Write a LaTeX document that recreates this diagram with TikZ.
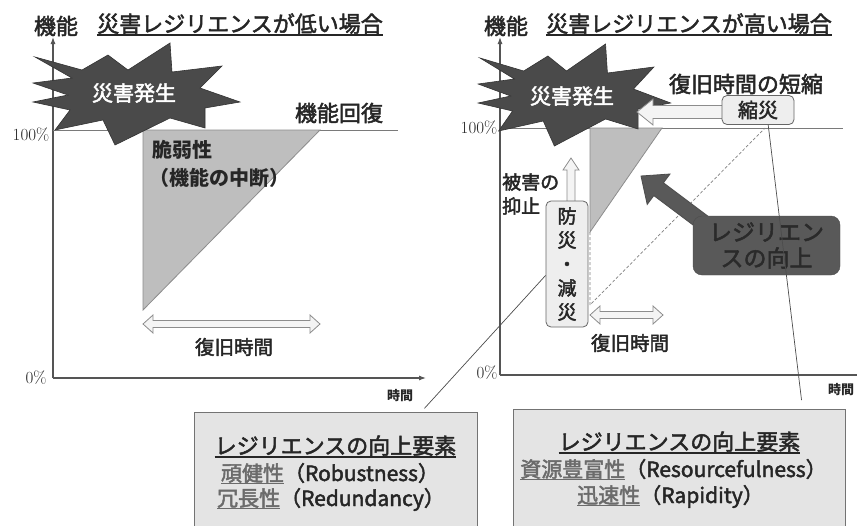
\documentclass[tikz,border=0pt]{standalone}
\usepackage{fontspec}
\newfontfamily\jp{Noto Sans CJK JP}[UprightFeatures={FakeBold=2.2}]
\usetikzlibrary{calc,arrows.meta}
\newcommand\myul[1]{\leavevmode\vtop{\hbox{#1}\kern0.6pt\hrule height 1.1pt}}
\definecolor{ink}{HTML}{262626}
\definecolor{axisc}{HTML}{555555}
\definecolor{linec}{HTML}{7A7A7A}
\definecolor{burstc}{HTML}{4A4A4A}
\definecolor{wedgec}{HTML}{BEBEBE}
\definecolor{wedgeline}{HTML}{8C8C8C}
\definecolor{boxc}{HTML}{E4E4E4}
\definecolor{tagc}{HTML}{EEEEEE}
\definecolor{darkc}{HTML}{595959}
\definecolor{darkt}{HTML}{2A2A2A}
\definecolor{grayword}{HTML}{6B6B6B}
\definecolor{hollowc}{HTML}{F4F4F4}
\newcommand\gword[1]{\textcolor{grayword}{\myul{#1}}}
\newcommand\hdarrow[3]{%
  \draw[hollow] (#1,#3) -- ({#1+10},{#3-9}) -- ({#1+10},{#3-3.5}) -- ({#2-10},{#3-3.5})
   -- ({#2-10},{#3-9}) -- (#2,#3) -- ({#2-10},{#3+9}) -- ({#2-10},{#3+3.5})
   -- ({#1+10},{#3+3.5}) -- ({#1+10},{#3+9}) -- cycle;}
\tikzset{
  lbl/.style={font=\jp\fontsize{#1}{#1}\selectfont, text=ink, inner sep=0pt},
  axisline/.style={draw=axisc, line width=1.1pt, -{Latex[length=7pt,width=5pt]}},
  pct/.style={font=\fontsize{17}{17}\selectfont, text=ink, inner sep=0pt},
  fullline/.style={draw=linec, line width=1pt},
  wedgefill/.style={fill=wedgec, draw=wedgeline, line width=0.8pt},
  burstfill/.style={fill=burstc, draw=black!80, line width=0.6pt, line join=miter},
  hollow/.style={fill=hollowc, draw=black!45, line width=0.8pt, line join=miter},
  tagbox/.style={draw=black!60, fill=tagc, rounded corners=5pt, line width=0.8pt, inner sep=0pt, text=ink},
  infobox/.style={draw=black!55, fill=boxc, line width=0.9pt, inner sep=0pt, anchor=north west},
  callout/.style={draw=black!70, line width=0.7pt},
  darkbox/.style={fill=darkc, draw=black!70, rounded corners=9pt, inner sep=0pt, text=darkt, align=center, font=\jp\fontsize{23}{26}\selectfont},
  darkarrow/.style={fill=darkc, draw=black!70, line width=0.8pt, line join=miter},
  dashedguide/.style={draw=gray, line width=0.7pt, dash pattern=on 3pt off 2pt},
  explosion/.pic={\path[burstfill] (-100,-38) -- (-53,-25) -- (-27,-40) -- (-7,-25) -- (35,-52)
     -- (37,-23) -- (87,-29) -- (65,-7) -- (105,7) -- (70,13) -- (70,33) -- (35,23) -- (-20,50)
     -- (-32,25) -- (-80,35) -- (-65,15) -- (-102,7) -- (-67,0) -- (-102,-12) -- (-63,-17) -- cycle;}
}
\begin{document}
\begin{tikzpicture}[x=1pt,y=-1pt]
\clip (0,0) rectangle (857,525);
\fill[white] (0,0) rectangle (857,525);
% ---------------- left panel
\coordinate (oL) at (53,378);
\coordinate (yTopL) at (53,37);
\coordinate (xEndL) at (426,378);
\draw[axisline] (oL) -- (yTopL);
\draw[axisline] (oL) -- (xEndL);
\draw[fullline] (53,130) -- (398,130);
\draw[wedgefill] (143,130) -- (320,130) -- (143,310) -- cycle;
\pic at (135,95) {explosion};
\node[lbl=21, text=white] (burstL) at (134,93) {災害発生};
\node[lbl=22] (recov) at (339,113) {機能回復};
\node[lbl=20] (vuln) at (182,150) {\bfseries 脆弱性};
\node[lbl=20] (vuln2) at (219,178) {\bfseries （機能の中断）};
\hdarrow{143}{320}{324}
\node[lbl=19.5] (rtL) at (234,347) {復旧時間};
\node[pct] (p100L) at (31,135) {100\%};
\node[pct] (p0L) at (36,378) {0\%};
\node[lbl=13] (timeL) at (400,396) {\bfseries 時間};
\node[lbl=22] (yL) at (56,26) {機能};
\node[lbl=22, anchor=base] (titleL) at (240,32) {\myul{災害レジリエンスが低い場合}};
% ---------------- right panel
\coordinate (oR) at (500,375);
\coordinate (yTopR) at (500,37);
\coordinate (xEndR) at (875,375);
\draw[axisline] (oR) -- (yTopR);
\draw[axisline] (oR) -- (xEndR);
\draw[fullline] (500,128) -- (843,128);
\draw[wedgefill] (590,128) -- (662,128) -- (590,232) -- cycle;
\draw[dashedguide] (590,232) -- (590,305) -- (765,128);
\pic[xscale=0.93] at (573,96) {explosion};
\node[lbl=21, text=white] (burstR) at (572,96) {災害発生};
\node[lbl=22] (rtshort) at (746,84) {復旧時間の短縮};
\draw[hollow] (637,112) -- (653,99) -- (653,105.5) -- (730,105.5) -- (730,118.5) -- (653,118.5) -- (653,125) -- cycle;
\node[tagbox, minimum width=72, minimum height=29, font=\jp\fontsize{20}{20}\selectfont] (shuku) at (758,110) {縮災};
\draw[hollow] (571,158) -- (579,170) -- (575,170) -- (575,205) -- (567,205) -- (567,170) -- (563,170) -- cycle;
\node[lbl=19, font=\jp\fontsize{19}{24}\selectfont, align=left, anchor=west] (suppress) at (502,194) {被害の\\抑止};
\node[tagbox, minimum width=42, minimum height=126, align=center, font=\jp\fontsize{19}{24}\selectfont] (bosai) at (567,264) {防\\災\\・\\減\\災};
\hdarrow{590}{663}{315}
\node[lbl=19.5] (rtR) at (630,343) {復旧時間};
\draw[darkarrow] (641,176) -- (670,174) -- (663.4,182.8) -- (721.8,226.6) -- (712.2,239.4) -- (653.8,195.6) -- (647.2,204.4) -- cycle;
\node[darkbox, minimum width=147, minimum height=59] (resil) at (766.5,245.5) {レジリエン\\スの向上};
\node[pct] (p100R) at (479,128) {100\%};
\node[pct] (p0R) at (487,373) {0\%};
\node[lbl=13] (timeR) at (841,390) {\bfseries 時間};
\node[lbl=22] (yR) at (506,26) {機能};
\node[lbl=22, anchor=base] (titleR) at (689,32) {\myul{災害レジリエンスが高い場合}};
% ---------------- info boxes
\node[infobox, minimum width=283, minimum height=140] (boxL) at (194,412) {};
\node[infobox, minimum width=332, minimum height=140] (boxR) at (513,409) {};
\node[lbl=22, anchor=base] (hdL) at (335.5,454) {\myul{レジリエンスの向上要素}};
\node[lbl=21, anchor=base] (robust) at (330,481) {\gword{頑健性}（Robustness）};
\node[lbl=21, anchor=base] (redund) at (331,506) {\gword{冗長性}（Redundancy）};
\node[lbl=22, anchor=base] (hdR) at (679.5,450) {\myul{レジリエンスの向上要素}};
\node[lbl=21, anchor=base] (resource) at (673.5,477) {\gword{資源豊富性}（Resourcefulness）};
\node[lbl=21, anchor=base] (rapid) at (670.5,503) {\gword{迅速性}（Rapidity）};
% ---------------- callouts
\coordinate (cL) at ($(bosai.south west)!0.41!(bosai.north west)$);
\draw[callout, shorten <=5pt] ($(boxL.north west)!0.8!(boxL.north east)$) -- (cL);
\draw[callout, shorten >=9pt] ($(shuku.south west)!0.64!(shuku.south east)$) -- ($(boxR.north west)!0.87!(boxR.north east)$);
\end{tikzpicture}
\end{document}
